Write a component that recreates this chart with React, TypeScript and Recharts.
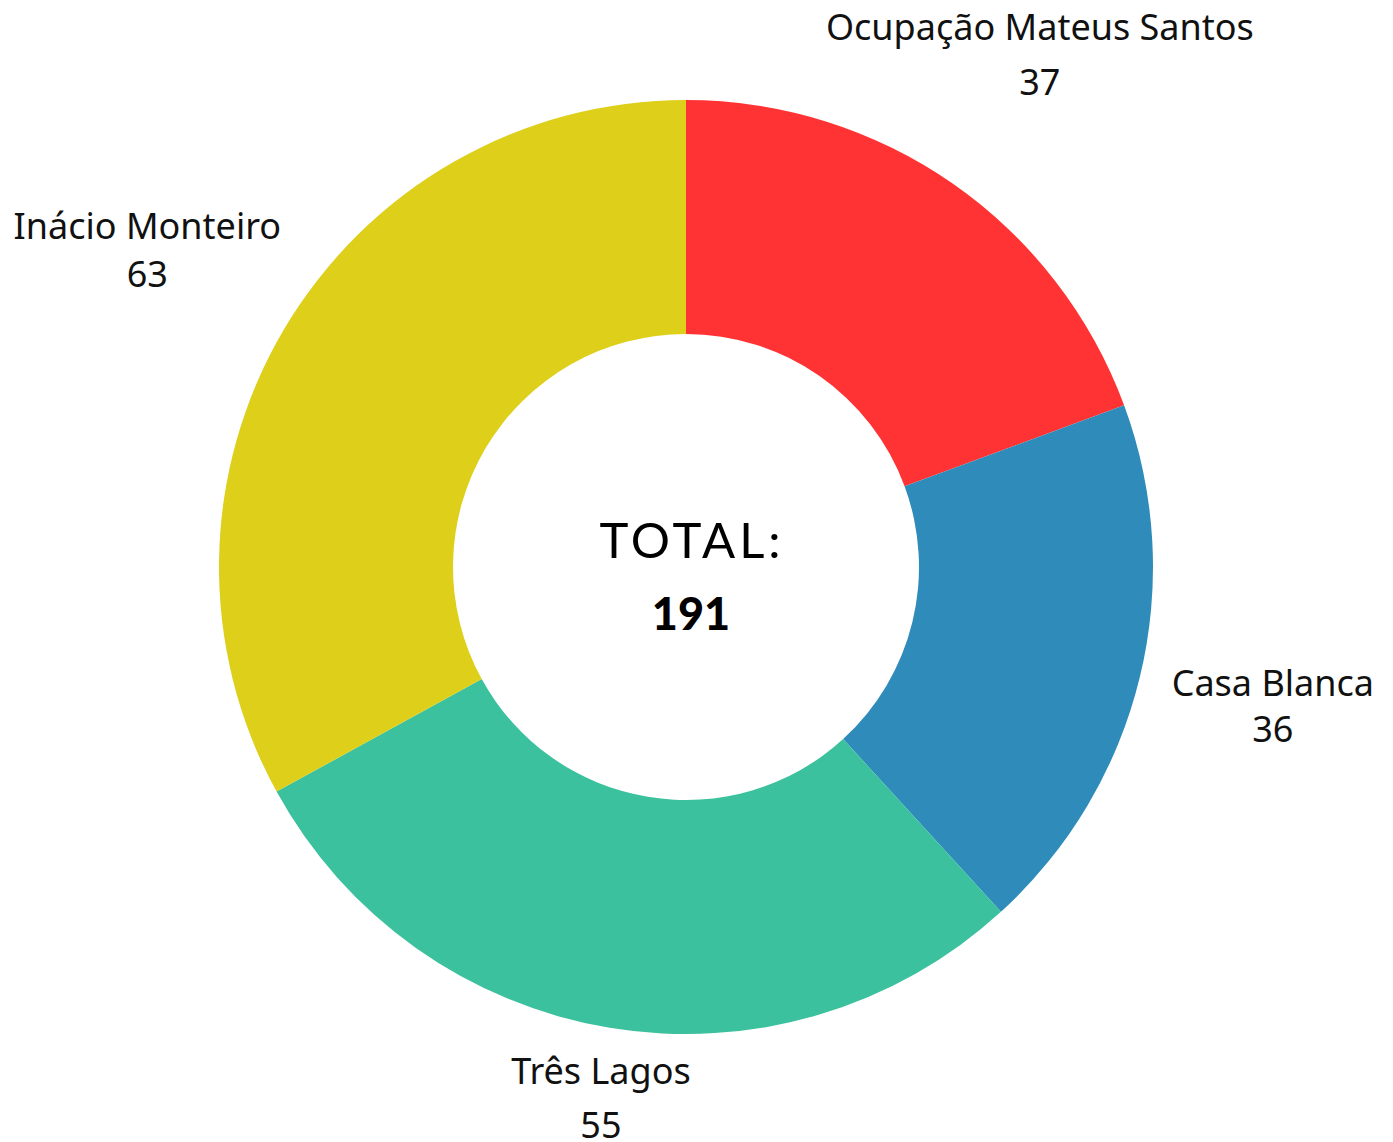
import React from "react";
import { PieChart, Pie, Cell, Label } from "recharts";

const names = ["Ocupação Mateus Santos", "Casa Blanca", "Três Lagos", "Inácio Monteiro"];
const values = [37, 36, 55, 63];
const colors = ["#FF3333", "#2E8BBA", "#3BC19D", "#DDCF1A"];
const totalLabel = "TOTAL:";

const data = names.map((name, i) => ({ name, value: values[i] }));
const total = values.reduce((a, b) => a + b, 0);

const labelExtra = [145, 139, 83, 152];
const labelGap = [55, 46, 54, 48];
const labelNudge = [
  [4, 3],
  [-2, 9],
  [5, 1],
  [-6, 11],
];
const RAD = Math.PI / 180;

const renderLabel = (props: any) => {
  const { cx, cy, midAngle, outerRadius, index, name, value } = props;
  const r = outerRadius + labelExtra[index];
  const x = cx + r * Math.cos(-midAngle * RAD) + labelNudge[index][0];
  const y = cy + r * Math.sin(-midAngle * RAD) + labelNudge[index][1];
  const g = labelGap[index] / 2;
  return (
    <text
      x={x}
      y={y}
      textAnchor="middle"
      fill="#111"
      fontFamily="'Noto Sans', 'Open Sans', sans-serif"
      fontSize={36}
    >
      <tspan x={x} y={y - g}>{name}</tspan>
      <tspan x={x} y={y + g}>{value}</tspan>
    </text>
  );
};

const CenterLabel = (props: any) => {
  const { viewBox } = props;
  const cx = viewBox?.cx ?? 686;
  const cy = viewBox?.cy ?? 567;
  return (
    <g>
      <text
        x={cx + 6}
        y={cy - 9}
        textAnchor="middle"
        fill="#000"
        fontFamily="Lato, 'Noto Sans', sans-serif"
        fontSize={49}
        letterSpacing={4}
      >
        {totalLabel}
      </text>
      <text
        x={cx + 5}
        y={cy + 63}
        textAnchor="middle"
        fill="#000"
        fontFamily="Lato, 'Noto Sans', sans-serif"
        fontWeight={900}
        fontSize={45}
      >
        {total}
      </text>
    </g>
  );
};

export default function App() {
  return (
    <div style={{ position: "absolute", left: 0, top: 0, width: 1393, height: 1142, background: "#fff" }}>
      <PieChart width={1393} height={1142} margin={{ top: 0, right: 0, bottom: 0, left: 0 }}>
        <Pie
          data={data}
          dataKey="value"
          nameKey="name"
          cx={686}
          cy={567}
          innerRadius={233}
          outerRadius={467}
          startAngle={90}
          endAngle={-270}
          stroke="none"
          label={renderLabel}
          labelLine={false}
          isAnimationActive={false}
        >
          {data.map((d, i) => (
            <Cell key={d.name} fill={colors[i]} />
          ))}
          <Label content={<CenterLabel />} position="center" />
        </Pie>
      </PieChart>
    </div>
  );
}
